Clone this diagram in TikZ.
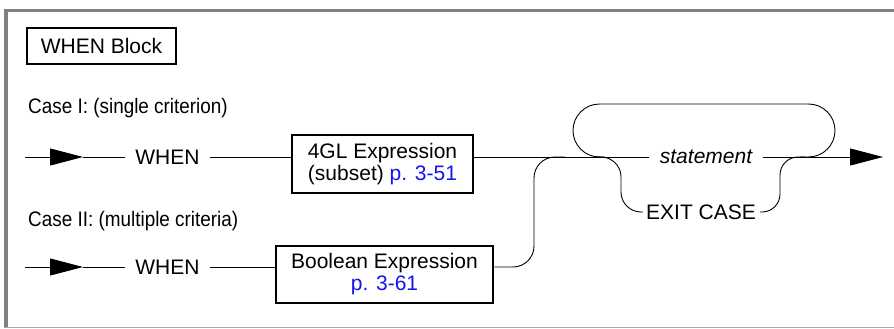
\documentclass[tikz,border=0pt]{standalone}
\usepackage{fontspec}
\setmainfont{Liberation Sans}
\usetikzlibrary{arrows.meta}
\definecolor{linkblue}{RGB}{20,20,235}
\definecolor{framegray}{RGB}{128,128,128}
\definecolor{framelight}{RGB}{170,170,170}
\begin{document}
\begin{tikzpicture}[x=1pt,y=-1pt,
  every node/.style={font=\fontsize{21}{22}\selectfont},
  conn/.style={line width=0.9pt},
  boxnode/.style={draw,line width=2.5pt,align=center,inner sep=0pt},
  kw/.style={inner ysep=0pt,inner xsep=10pt},
  casetext/.style={anchor=west,inner sep=0pt},
  startarrow/.style={conn,-{Triangle[length=33pt,width=17pt]}}
]
\useasboundingbox (0,0) rectangle (894,329);
% frame
\draw[framegray,line width=3pt] (4,10.5) -- (894,10.5);
\draw[framegray,line width=4pt] (6,9) -- (6,328);
\draw[framelight,line width=1.2pt] (4,327.6) -- (894,327.6);

% title
\node[boxnode,line width=2pt,minimum width=149pt,minimum height=36pt] (title) at (101.5,46) {WHEN Block};

% case labels
\node[casetext] (case1) at (28,108) {\scalebox{0.9}[1]{Case I: (single criterion)}};
\node[casetext] (case2) at (28,221) {\scalebox{0.9}[1]{Case II: (multiple criteria)}};

% case I row
\coordinate (s1) at (25,157);
\coordinate (a1) at (83,157);
\node[kw] (when1) at (167.5,157) {WHEN};
\node[boxnode,minimum width=181pt,minimum height=58pt] (gl) at (382.5,164)
  {4GL Expression\\(subset) \textcolor{linkblue}{p. 3-51}};
\draw[startarrow] (s1) -- (a1);
\draw[conn] (a1) -- (when1.west);
\draw[conn] (when1.east) -- (gl.west |- when1.east);

% case II row
\coordinate (s2) at (25,267);
\coordinate (a2) at (83,267);
\node[kw] (when2) at (167.5,267) {WHEN};
\node[boxnode,minimum width=217pt,minimum height=57pt] (bool) at (384.5,274.5)
  {Boolean Expression\\\textcolor{linkblue}{p. 3-61}};
\draw[startarrow] (s2) -- (a2);
\draw[conn] (a2) -- (when2.west);
\draw[conn] (when2.east) -- (bool.west |- when2.east);

% statement and exit case
\node[inner ysep=0pt,inner xsep=11pt] (stmt) at (706,157) {\itshape statement};
\node[inner sep=0pt] (exit) at (701,212) {EXIT CASE};
\coordinate (endpt) at (883,157);

% main line from 4GL box to statement
\draw[conn] (gl.east |- stmt.west) -- (stmt.west);
% boolean merges into main line
\coordinate (m1) at (534,267);
\coordinate (m2) at (534,157);
\draw[conn,rounded corners=21pt] (bool.east |- m1) -- (m1) -- (m2) -- (565,157);
% loop
\coordinate (l1) at (573,157);
\coordinate (l2) at (573,104);
\coordinate (l3) at (835,104);
\coordinate (l4) at (835,157);
\draw[conn,rounded corners=26.5pt] (605,157) -- (l1) -- (l2) -- (l3) -- (l4) -- (800,157);
% exit case bypass
\coordinate (e1) at (621,157);
\coordinate (e2) at (621,212);
\coordinate (e3) at (780,212);
\coordinate (e4) at (780,157);
\draw[conn,rounded corners=20pt] (595,157) -- (e1) -- (e2) -- ([xshift=-3pt]exit.west);
\draw[conn,rounded corners=18pt] ([xshift=4pt]exit.east) -- (e3) -- (e4) -- (805,157);
% end arrow
\draw[conn,-{Triangle[length=33pt,width=17pt]}] (stmt.east) -- (endpt);
\end{tikzpicture}
\end{document}
